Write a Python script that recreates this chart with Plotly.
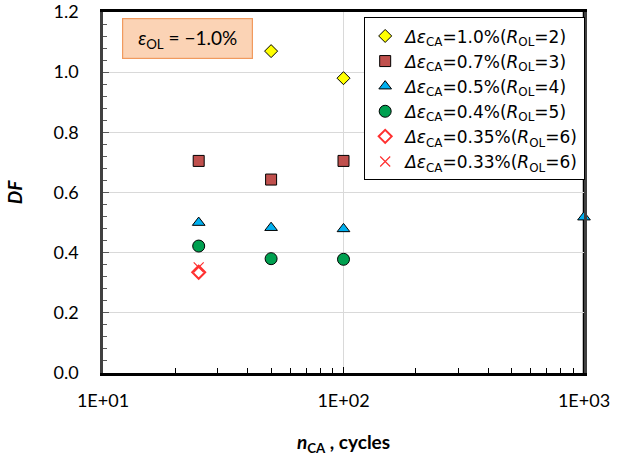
import plotly.graph_objects as go

# Data
series_names = [
    "<i>Δε</i><sub>CA</sub>=1.0%(<i>R</i><sub>OL</sub>=2)",
    "<i>Δε</i><sub>CA</sub>=0.7%(<i>R</i><sub>OL</sub>=3)",
    "<i>Δε</i><sub>CA</sub>=0.5%(<i>R</i><sub>OL</sub>=4)",
    "<i>Δε</i><sub>CA</sub>=0.4%(<i>R</i><sub>OL</sub>=5)",
    "<i>Δε</i><sub>CA</sub>=0.35%(<i>R</i><sub>OL</sub>=6)",
    "<i>Δε</i><sub>CA</sub>=0.33%(<i>R</i><sub>OL</sub>=6)",
]
n_10 = [50, 100]
df_10 = [1.07, 0.98]
n_07 = [25, 50, 100]
df_07 = [0.705, 0.643, 0.705]
n_05 = [25, 50, 100, 1000]
df_05 = [0.50, 0.483, 0.479, 0.518]
n_04 = [25, 50, 100]
df_04 = [0.422, 0.38, 0.378]
n_035 = [25]
df_035 = [0.335]
n_033 = [25]
df_033 = [0.351]

x_tickvals = [10, 100, 1000]
x_ticktext = ["1E+01", "1E+02", "1E+03"]

styles = [
    dict(symbol="diamond", color="#ffff00", size=10, line=dict(color="black", width=1)),
    dict(symbol="square", color="#c0504d", size=11, line=dict(color="black", width=1)),
    dict(symbol="triangle-up", color="#00b0f0", size=11, line=dict(color="black", width=1)),
    dict(symbol="circle", color="#00a050", size=12, line=dict(color="black", width=1)),
    dict(symbol="diamond-open", color="#ff3030", size=10, line=dict(color="#ff3030", width=2)),
    dict(symbol="x-thin-open", color="#ff3030", size=10, line=dict(color="#ff3030", width=1.2)),
]

xs = [n_10, n_07, n_05, n_04, n_035, n_033]
ys = [df_10, df_07, df_05, df_04, df_035, df_033]

fig = go.Figure()
for name, x, y, st in zip(series_names, xs, ys, styles):
    fig.add_trace(go.Scatter(x=x, y=y, mode="markers", name=name, marker=st, cliponaxis=False))

minor_x = [20, 30, 40, 50, 60, 70, 80, 90, 200, 300, 400, 500, 600, 700, 800, 900]

fig.update_layout(
    width=622, height=461,
    margin=dict(l=103, r=38, t=12, b=88, autoexpand=False),
    paper_bgcolor="white", plot_bgcolor="white",
    font=dict(family="Lato, Open Sans, sans-serif", size=18, color="black"),
    showlegend=True,
    legend=dict(
        x=0.543, y=0.985, xanchor="left", yanchor="top",
        bgcolor="white", bordercolor="black", borderwidth=1,
        font=dict(size=17, family="DejaVu Sans, sans-serif"), tracegroupgap=0, itemwidth=30,
    ),
    xaxis=dict(
        type="log", range=[1, 3], automargin=False,
        tickvals=x_tickvals, ticktext=x_ticktext,
        ticks="inside", ticklen=6, tickcolor="black",
        showgrid=True, gridcolor="#d9d9d9", gridwidth=1,
        showline=True, linecolor="black", linewidth=2.5, mirror=True,
        minor=dict(tickvals=minor_x, ticks="inside", ticklen=5, tickcolor="black", showgrid=False),
        tickfont=dict(size=18), ticklabelstandoff=10,
        title=dict(text="<b><i>n</i><sub>CA</sub> , cycles</b>", font=dict(size=19), standoff=26),
        zeroline=False,
    ),
    yaxis=dict(
        range=[0, 1.2], dtick=0.2, tickformat=".1f", automargin=False,
        ticks="inside", ticklen=6, tickcolor="#595959",
        showgrid=True, gridcolor="#d9d9d9", gridwidth=1,
        showline=True, linecolor="#404040", linewidth=2.5, mirror=True,
        minor=dict(dtick=0.04, ticks="inside", ticklen=4, tickcolor="#595959", showgrid=False),
        tickfont=dict(size=18), ticklabelstandoff=18,
        title=dict(text="<b><i>DF</i></b>", font=dict(size=19), standoff=26),
        zeroline=False,
    ),
)

fig.add_shape(type="line", xref="paper", yref="paper", x0=1, x1=1, y0=0, y1=1,
              line=dict(color="black", width=2.5), layer="below")

fig.add_annotation(
    xref="paper", yref="paper", x=0.039, y=0.983, xanchor="left", yanchor="top",
    text="<i>ε</i><sub>OL</sub> = \u22121.0%", showarrow=False,
    font=dict(size=19, color="black"),
    width=119, height=29,
    bgcolor="#fbd3b5", bordercolor="#f19a5e", borderwidth=1.2, borderpad=5,
)

fig.write_html("out.html", config={"displayModeBar": False},
               post_script="document.body.style.margin='0';")
